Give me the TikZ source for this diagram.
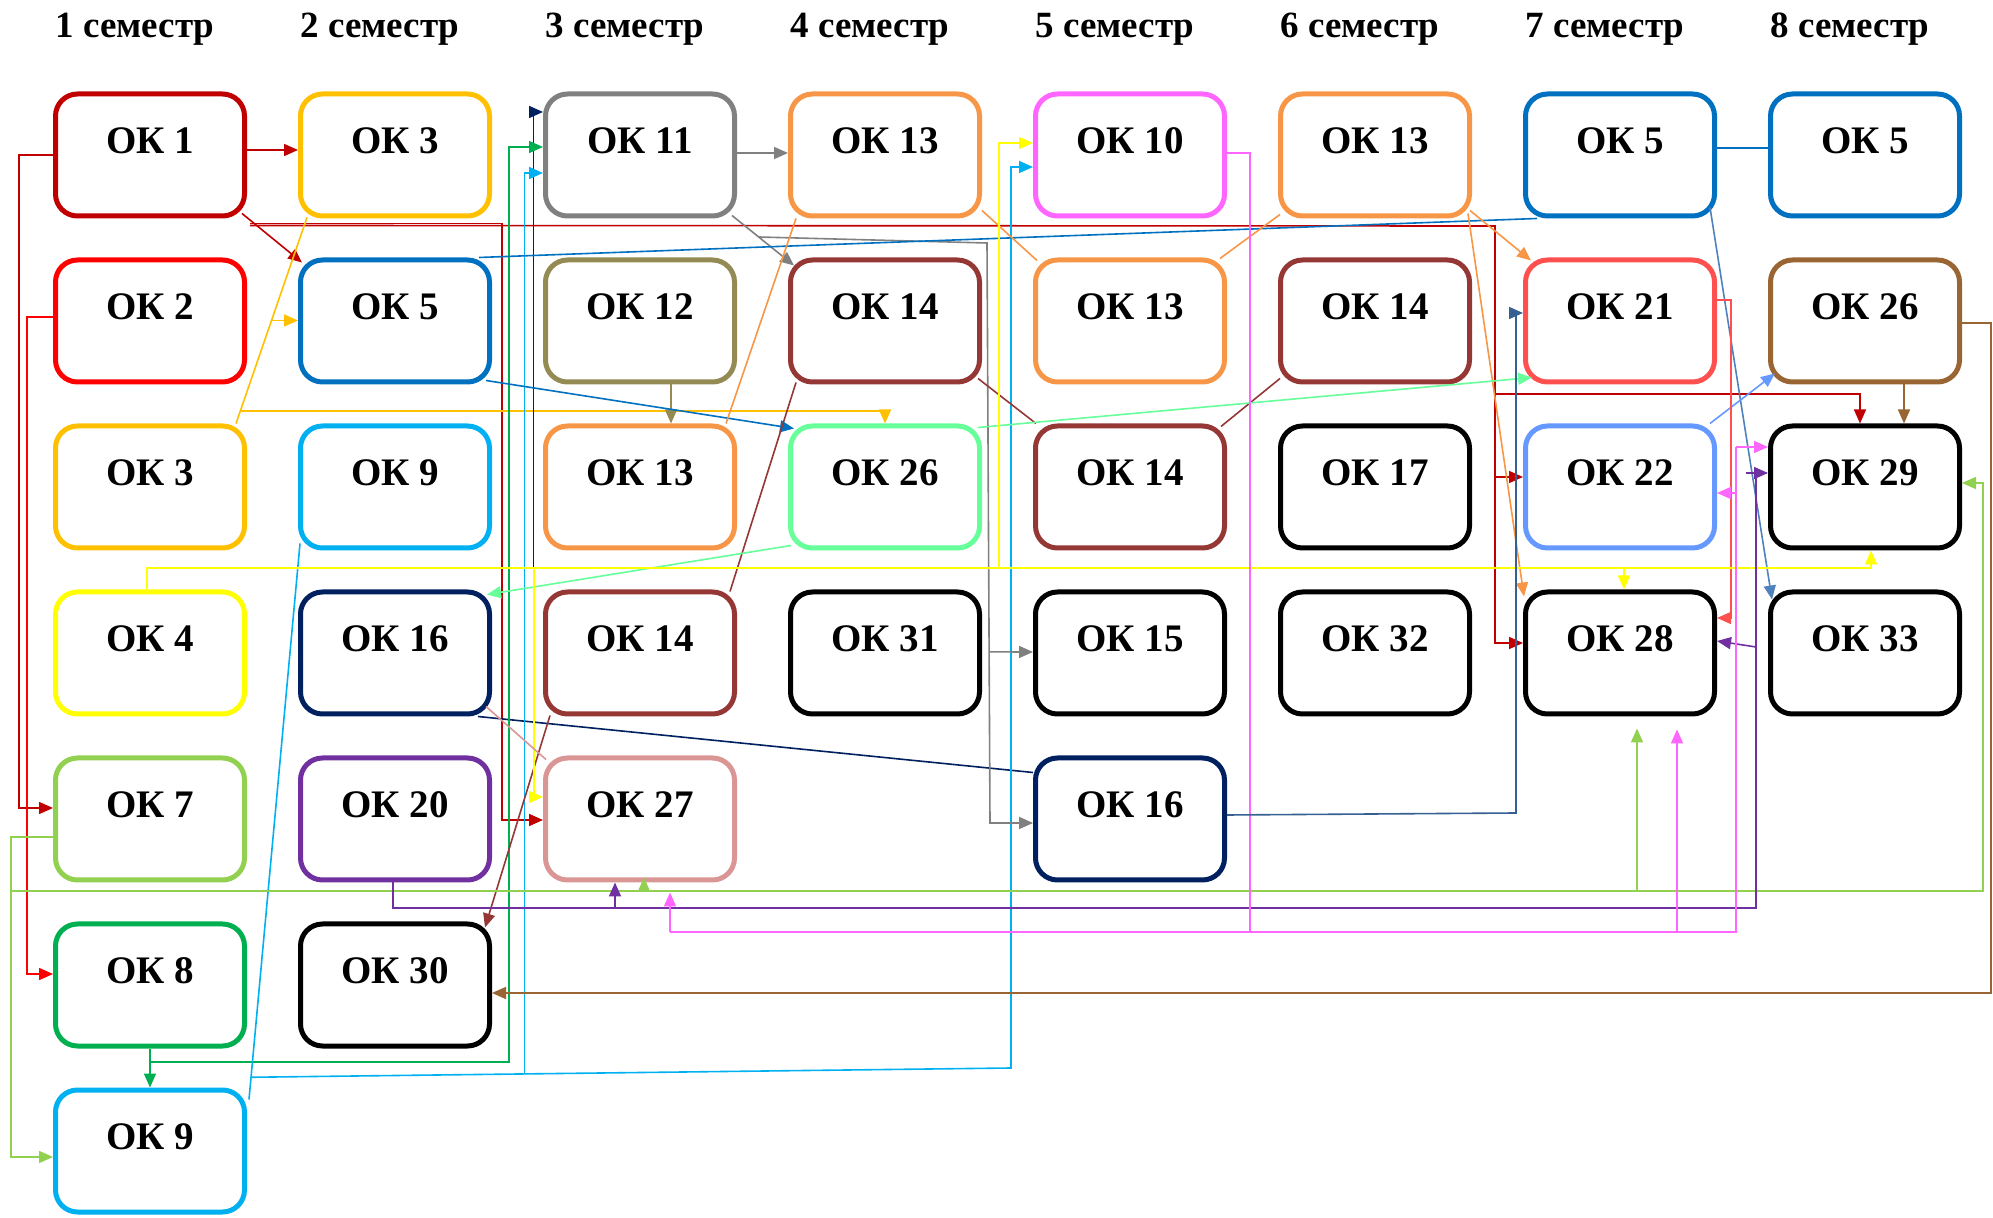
\documentclass[tikz,border=0pt]{standalone}
\usepackage{fontspec}
\setmainfont{Liberation Serif}
\usetikzlibrary{arrows.meta,calc}
\definecolor{okDarkRed}{HTML}{C00000}
\definecolor{okRed}{HTML}{FF0000}
\definecolor{okGold}{HTML}{FFC000}
\definecolor{okYellow}{HTML}{FFFF00}
\definecolor{okLime}{HTML}{92D050}
\definecolor{okGreen}{HTML}{00B050}
\definecolor{okSky}{HTML}{00B0F0}
\definecolor{okBlue}{HTML}{0070C0}
\definecolor{okNavy}{HTML}{002060}
\definecolor{okPurple}{HTML}{7030A0}
\definecolor{okGray}{HTML}{808080}
\definecolor{okOlive}{HTML}{948A54}
\definecolor{okOrange}{HTML}{F79646}
\definecolor{okMaroon}{HTML}{953735}
\definecolor{okRose}{HTML}{D99694}
\definecolor{okMint}{HTML}{66FF99}
\definecolor{okMagenta}{HTML}{FF66FF}
\definecolor{okCoral}{HTML}{FF5050}
\definecolor{okCorn}{HTML}{6699FF}
\definecolor{okBrown}{HTML}{996633}
\definecolor{okSteel}{HTML}{4F81BD}
\definecolor{okSteelDark}{HTML}{376092}
\tikzset{ok/.style={draw,line width=2.5pt,rounded corners=11pt,minimum width=94.5pt,minimum height=61pt,
  inner sep=0pt,outer sep=1.25pt,text height=14pt,text depth=15.7pt,font=\fontsize{19.5}{19.5}\selectfont\bfseries},
  sem/.style={font=\fontsize{18.5}{18.5}\selectfont\bfseries}}
\begin{document}
\begin{tikzpicture}[x=0.5pt,y=-0.5pt,>={Triangle[length=7pt,width=6pt]},line width=0.8pt]
\useasboundingbox (0,0) rectangle (1993,1218);
\foreach \s in {1,...,8} \node[sem] (h\s) at ({135+245*(\s-1)},29) {\s~семестр};
\foreach \r/\t/\c in {1/1/okDarkRed,2/2/okRed,3/3/okGold,4/4/okYellow,5/7/okLime,6/8/okGreen,7/9/okSky}
  \node[ok,draw=\c] (s1r\r) at (150,{155+166*(\r-1)}) {ОК \t};
\foreach \r/\t/\c in {1/3/okGold,2/5/okBlue,3/9/okSky,4/16/okNavy,5/20/okPurple,6/30/black}
  \node[ok,draw=\c] (s2r\r) at (395,{155+166*(\r-1)}) {ОК \t};
\foreach \r/\t/\c in {1/11/okGray,2/12/okOlive,3/13/okOrange,4/14/okMaroon,5/27/okRose}
  \node[ok,draw=\c] (s3r\r) at (640,{155+166*(\r-1)}) {ОК \t};
\foreach \r/\t/\c in {1/13/okOrange,2/14/okMaroon,3/26/okMint,4/31/black}
  \node[ok,draw=\c] (s4r\r) at (885,{155+166*(\r-1)}) {ОК \t};
\foreach \r/\t/\c in {1/10/okMagenta,2/13/okOrange,3/14/okMaroon,4/15/black,5/16/okNavy}
  \node[ok,draw=\c] (s5r\r) at (1130,{155+166*(\r-1)}) {ОК \t};
\foreach \r/\t/\c in {1/13/okOrange,2/14/okMaroon,3/17/black,4/32/black}
  \node[ok,draw=\c] (s6r\r) at (1375,{155+166*(\r-1)}) {ОК \t};
\foreach \r/\t/\c in {1/5/okBlue,2/21/okCoral,3/22/okCorn,4/28/black}
  \node[ok,draw=\c] (s7r\r) at (1620,{155+166*(\r-1)}) {ОК \t};
\foreach \r/\t/\c in {1/5/okBlue,2/26/okBrown,3/29/black,4/33/black}
  \node[ok,draw=\c] (s8r\r) at (1865,{155+166*(\r-1)}) {ОК \t};
\draw[->,okDarkRed] (s1r1.east |- 0,150)--(s2r1.west |- 0,150);
\draw[->,okDarkRed] ([shift={(-5,-5)}]s1r1.south east)--([shift={(4,5)}]s2r2.north west);
\draw[->,okDarkRed] (s1r1.west)--++(-34,0)|-(s1r5.west |- 0,808);
\draw[->,okRed] (s1r2.west |- 0,317)--++(-26,0)|-(s1r6.west |- 0,974);
\coordinate (rb) at (1495,226);
\draw[->,okDarkRed] ([shift={(3,7)}]s1r1.south east)--(rb)|-(s7r4.west |- 0,643);
\draw[->,okDarkRed] (rb |- 0,477)--(s7r3.west |- 0,477);
\draw[->,okDarkRed] (rb |- 0,394)-|(s8r3.north -| 1860,0);
\draw[->,okDarkRed] ([shift={(3,5)}]s1r1.south east)-|(502,820)--(s3r5.west |- 0,820);
\draw[okGold] ([shift={(-11,0)}]s1r3.north east)--([shift={(9,-1)}]s2r1.south west) coordinate[pos=0.06](g0) coordinate[pos=0.5](g1);
\draw[->,okGold] (g1)--(s2r2.west |- g1);
\draw[->,okGold] (g0)-|(s4r3.north);
\draw[okNavy] ([shift={(-14,0)}]s2r4.south east)--([shift={(0,17)}]s5r5.north west) coordinate[pos=0.1](n1);
\draw[->,okNavy] (n1)|-(s3r1.west |- 0,112);
\draw[->,okGreen] (s1r6.south)--(s1r7.north);
\draw[->,okGreen] (s1r6.south)|-(509,1062)|-(s3r1.west |- 0,147);
\draw[okSky] ([shift={(2,-7)}]s2r3.south west)--([shift={(2,12)}]s1r7.north east) coordinate[pos=0.96](b1);
\draw[->,okSky] (b1)--(1011,1068) coordinate[pos=0.36](b2)|-(s5r1.west |- 0,167);
\draw[->,okSky] (b2)|-(s3r1.west |- 0,173);
\draw[->,okGray] (s3r1.east |- 0,153)--(s4r1.west |- 0,153);
\draw[->,okGray] ([shift={(-5,-3)}]s3r1.south east)--([shift={(6,8)}]s4r2.north west) coordinate[pos=0.43](q1);
\draw[->,okGray] (q1)--(987,243)--(990,823) coordinate[pos=0.705](q2)--(s5r5.west |- 0,823);
\draw[->,okGray] (q2)--(s5r4.west |- 0,652);
\draw[->,okOlive] (s3r2.south -| 671,0)--(s3r3.north -| 671,0);
\draw[->,okBlue] ([shift={(-6,-4)}]s2r2.south east)--([shift={(6,5)}]s4r3.north west);
\draw[okBlue] ([shift={(-13,0)}]s2r2.north east)--([shift={(14,0)}]s7r1.south west);
\draw[okBlue] (s7r1.east |- 0,148)--(s8r1.west |- 0,148);
\draw[->,okSteel] ([shift={(-7,-11)}]s7r1.south east)--([shift={(4,10)}]s8r4.north west);
\draw[okOrange] ([shift={(-11,0)}]s3r3.north east)--([shift={(8,0)}]s4r1.south west);
\draw[okOrange] ([shift={(0,-8)}]s4r1.south east)--([shift={(4,3)}]s5r2.north west);
\draw[okOrange] ([shift={(-7,1)}]s5r2.north east)--([shift={(2,-4)}]s6r1.south west);
\draw[->,okOrange] ([shift={(-2,-8)}]s6r1.south east)--([shift={(8,3)}]s7r2.north west);
\draw[->,okOrange] ([shift={(-4,-5)}]s6r1.south east)--([shift={(1,7)}]s7r4.north west);
\draw[okMaroon] ([shift={(8,-2)}]s4r2.south west)--([shift={(-7,2)}]s3r4.north east);
\draw[okMaroon] ([shift={(-4,-6)}]s4r2.south east)--([shift={(3,0)}]s5r3.north west);
\draw[okMaroon] ([shift={(-6,3)}]s5r3.north east)--([shift={(2,-6)}]s6r2.south west);
\draw[->,okMaroon] ([shift={(7,-1)}]s3r4.south west)--([shift={(-7,6)}]s2r6.north east);
\draw[->,okMint] ([shift={(3,-5)}]s4r3.south west)--([shift={(-5,5)}]s2r4.north east);
\draw[->,okMint] ([shift={(-4,4)}]s4r3.north east)--([shift={(9,-7)}]s7r2.south west);
\draw[->,okBrown] (s8r2.south -| 1904,0)--(s8r3.north -| 1904,0);
\draw[->,okBrown] (s8r2.east |- 0,323)--(1991,323)|-(s2r6.east |- 0,993);
\draw[->,okCorn] ([shift={(-7,0)}]s7r3.north east)--([shift={(7,-11)}]s8r2.south west);
\draw[->,okCoral] (s7r2.east |- 0,300)--(1731,300)|-(s7r4.east |- 0,618);
\coordinate (yb) at (147,568);
\draw[->,okYellow] (s1r4.north -| yb)--(yb)-|(s8r3.south -| 1871,0);
\draw[->,okYellow] (yb -| 534,0)|-(s3r5.west |- 0,797);
\draw[->,okYellow] (yb -| 999,0)|-(s5r1.west |- 0,143);
\draw[->,okYellow] (yb -| 1624,0)--(s7r4.north -| 1624,0);
\draw[->,okLime] (s1r5.west |- 0,837)--(11,837)|-(s1r7.west |- 0,1157);
\coordinate (lb) at (11,891);
\draw[->,okLime] (lb)--(1983,891)|-(s8r3.east |- 0,483);
\draw[->,okLime] (lb -| 644,0)--($(s3r5.south -| 644,0)+(0,-5)$);
\draw[->,okLime] (lb -| 1637,0)--($(s7r4.south -| 1637,0)+(0,12)$);
\coordinate (pb) at (1756,908);
\draw[okPurple] (s2r5.south -| 393,0)|-(pb)--(pb |- 0,473);
\draw[->,okPurple] ($(pb |- 0,473)+(-10,0)$)--(s8r3.west |- 0,473);
\draw[->,okPurple] (pb |- 0,647)--(s7r4.east |- 0,641);
\draw[->,okPurple] (pb -| 615,0)--(s3r5.south -| 615,0);
\coordinate (mb) at (1250,932);
\draw[okMagenta] (s5r1.east |- 0,153)-|(mb);
\draw[okMagenta] (mb -| 670,0)-|(1736,447) coordinate (mt);
\draw[->,okMagenta] (mt)--(s8r3.west |- mt);
\draw[->,okMagenta] (mt |- 0,493)--(s7r3.east |- 0,493);
\draw[->,okMagenta] (mb -| 1677,0)--($(s7r4.south -| 1677,0)+(0,13)$);
\draw[->,okMagenta] (mb -| 670,0)--($(s3r5.south -| 670,0)+(0,10)$);
\draw[->,okSteelDark] (s5r5.east |- 0,815)--(1516,813)|-(s7r2.west |- 0,313);
\draw[okRose] ([shift={(-6,-10)}]s2r4.south east)--([shift={(3,4)}]s3r5.north west);
\end{tikzpicture}
\end{document}
